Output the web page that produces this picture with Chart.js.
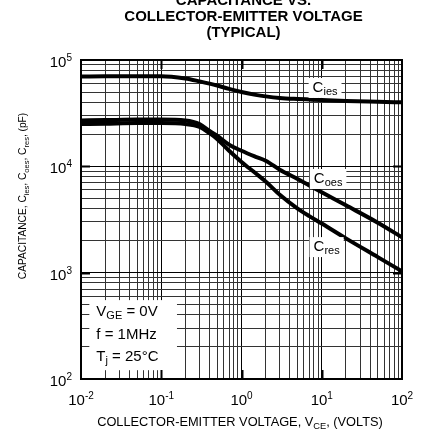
<!DOCTYPE html>
<html><head><meta charset="utf-8">
<script src="https://cdn.jsdelivr.net/npm/chart.js@4/dist/chart.umd.min.js"></script>
<style>html,body{margin:0;padding:0;background:#fff;}canvas{display:block;}</style>
</head><body>
<canvas id="c" width="429" height="434"></canvas>
<script>
// ---------- data ----------
const voltage = [0.01, 0.02, 0.05, 0.1, 0.2, 0.3, 0.4, 0.5, 0.7, 1, 1.5, 2, 3, 5, 7, 10, 20, 50, 100];
const cies = [70000, 70200, 70500, 70500, 67000, 63000, 60000, 57500, 53500, 50000, 47000, 45500, 44000, 43000, 42500, 42000, 41200, 40500, 40000];
const coes = [27000, 27200, 27500, 27500, 27000, 25000, 21500, 19300, 16000, 14000, 12300, 11300, 9300, 7600, 6600, 5700, 4300, 2950, 2150];
const cres = [25000, 25200, 25500, 25500, 25000, 23500, 20500, 18000, 14000, 11000, 8600, 7200, 5400, 4000, 3400, 2900, 2100, 1400, 1030];
const xTickExponents = [-2, -1, 0, 1, 2];
const yTickExponents = [2, 3, 4, 5];
const titleLines = ['CAPACITANCE VS.', 'COLLECTOR-EMITTER VOLTAGE', '(TYPICAL)'];
const seriesNames = [['C', 'ies'], ['C', 'oes'], ['C', 'res']];
const conditionLines = [
  [['V', ''], ['GE', 'sub'], [' = 0V', '']],
  [['f = 1MHz', '']],
  [['T', ''], ['j', 'sub'], [' = 25°C', '']]
];
const xTitle = [['COLLECTOR-EMITTER VOLTAGE, V', ''], ['CE', 'sub'], [', (VOLTS)', '']];
const yTitle = [['CAPACITANCE, C', ''], ['ies', 'sub'], [', C', ''], ['oes', 'sub'], [', C', ''], ['res', 'sub'], [', (pF)', '']];

// ---------- layout / style (not data) ----------
const FONT = "'Liberation Sans', Arial, Helvetica, sans-serif";
const labelAnchors = [{x: 11, y: 54600}, {x: 12, y: 7600}, {x: 11.5, y: 1740}];
const conditionBox = {x0: 0.0127, x1: 0.157, y0: 121, y1: 552};

function gridValues(lo, hi) {
  const out = [];
  for (let e = lo; e < hi; e++) for (let k = 1; k <= 9; k++) out.push(parseFloat((k * Math.pow(10, e)).toPrecision(10)));
  out.push(Math.pow(10, hi));
  return out;
}
function isPow10(v) { const l = Math.log10(v); return Math.abs(l - Math.round(l)) < 1e-9; }

function runsWidth(ctx, runs, main, sub) {
  let w = 0;
  for (const [t, kind] of runs) {
    ctx.font = (kind ? sub : main) + 'px ' + FONT;
    w += ctx.measureText(t).width;
  }
  return w;
}
function drawRuns(ctx, runs, x, y, main, sub, align, subDy, supDy) {
  const w = runsWidth(ctx, runs, main, sub);
  let cx = align === 'center' ? x - w / 2 : (align === 'right' ? x - w : x);
  ctx.textAlign = 'left';
  ctx.textBaseline = 'alphabetic';
  for (const [t, kind] of runs) {
    ctx.font = (kind ? sub : main) + 'px ' + FONT;
    const dy = kind === 'sub' ? subDy : (kind === 'sup' ? -supDy : 0);
    ctx.fillText(t, cx, y + dy);
    cx += ctx.measureText(t).width;
  }
  return w;
}

const deco = {
  id: 'deco',
  afterDatasetsDraw(chart) {
    const {ctx, chartArea: a, scales: {x, y}} = chart;
    ctx.save();
    ctx.fillStyle = '#000';
    // conditions box
    const bx0 = x.getPixelForValue(conditionBox.x0), bx1 = x.getPixelForValue(conditionBox.x1);
    const by0 = y.getPixelForValue(conditionBox.y1), by1 = y.getPixelForValue(conditionBox.y0);
    ctx.fillStyle = '#fff';
    ctx.fillRect(bx0, by0, bx1 - bx0, by1 - by0);
    ctx.fillStyle = '#000';
    conditionLines.forEach((runs, i) => {
      drawRuns(ctx, runs, bx0 + 7, by0 + 16 + i * 22.5, 15, 11, 'left', 3, 0);
    });
    // series labels
    seriesNames.forEach(([m, s], i) => {
      const px = x.getPixelForValue(labelAnchors[i].x), py = y.getPixelForValue(labelAnchors[i].y);
      const runs = [[m, ''], [s, 'sub']];
      const w = runsWidth(ctx, runs, 15, 11);
      ctx.fillStyle = '#fff';
      ctx.fillRect(px - w / 2 - 4, py - 10, w + 8, 20);
      ctx.fillStyle = '#000';
      drawRuns(ctx, runs, px, py + 4, 15, 11, 'center', 3, 0);
    });
    // frame
    ctx.strokeStyle = '#000';
    ctx.lineWidth = 2;
    ctx.strokeRect(a.left, a.top, a.right - a.left, a.bottom - a.top);
    // major inward ticks
    ctx.lineWidth = 2;
    ctx.beginPath();
    xTickExponents.slice(1, -1).forEach(e => {
      const px = Math.round(x.getPixelForValue(Math.pow(10, e))) + 0.5;
      ctx.moveTo(px, a.bottom); ctx.lineTo(px, a.bottom - 9);
      ctx.moveTo(px, a.top); ctx.lineTo(px, a.top + 9);
    });
    yTickExponents.slice(1, -1).forEach(e => {
      const py = Math.round(y.getPixelForValue(Math.pow(10, e))) + 0.5;
      ctx.moveTo(a.left, py); ctx.lineTo(a.left + 9, py);
      ctx.moveTo(a.right, py); ctx.lineTo(a.right - 9, py);
    });
    ctx.stroke();
    ctx.restore();
  },
  afterDraw(chart) {
    const {ctx, chartArea: a, scales: {x, y}} = chart;
    ctx.save();
    ctx.fillStyle = '#000';
    // x tick labels
    xTickExponents.forEach(e => {
      const px = x.getPixelForValue(Math.pow(10, e));
      drawRuns(ctx, [['10', ''], [String(e), 'sup']], px, a.bottom + 26, 15, 10, 'center', 0, 6);
    });
    // y tick labels
    yTickExponents.forEach(e => {
      const py = y.getPixelForValue(Math.pow(10, e));
      drawRuns(ctx, [['10', ''], [String(e), 'sup']], a.left - 9, py + 7, 15, 10, 'right', 0, 6);
    });
    // title
    ctx.font = 'bold 15px ' + FONT;
    ctx.textAlign = 'center';
    ctx.textBaseline = 'middle';
    const cx = (a.left + a.right) / 2 + 2;
    titleLines.forEach((t, i) => ctx.fillText(t, cx, 1 + i * 16));
    // x title
    drawRuns(ctx, xTitle, 240, 426, 12.8, 9.3, 'center', 3, 0);
    // y title
    ctx.translate(26, 196);
    ctx.rotate(-Math.PI / 2);
    drawRuns(ctx, yTitle, 0, 0, 10.2, 7.5, 'center', 2.5, 0);
    ctx.restore();
  }
};

const gridColor = c => isPow10(c.tick.value) ? '#000' : '#333';

new Chart(document.getElementById('c'), {
  type: 'scatter',
  data: {
    datasets: [
      {label: 'Cies', data: voltage.map((v, i) => ({x: v, y: cies[i]}))},
      {label: 'Coes', data: voltage.map((v, i) => ({x: v, y: coes[i]}))},
      {label: 'Cres', data: voltage.map((v, i) => ({x: v, y: cres[i]}))}
    ].map(d => Object.assign(d, {showLine: true, borderColor: '#000', borderWidth: 4, pointRadius: 0, cubicInterpolationMode: 'monotone', fill: false}))
  },
  options: {
    responsive: false, animation: false, devicePixelRatio: 1,
    layout: {padding: {left: 81, right: 27, top: 60, bottom: 55}},
    plugins: {legend: {display: false}, tooltip: {enabled: false}, title: {display: false}},
    scales: {
      x: {
        type: 'logarithmic', min: 0.01, max: 100,
        afterBuildTicks: s => { s.ticks = gridValues(-2, 2).map(v => ({value: v})); },
        ticks: {display: false, autoSkip: false},
        grid: {drawTicks: false, color: gridColor, lineWidth: 1},
        border: {display: false}
      },
      y: {
        type: 'logarithmic', min: 100, max: 100000,
        afterBuildTicks: s => { s.ticks = gridValues(2, 5).map(v => ({value: v})); },
        ticks: {display: false, autoSkip: false},
        grid: {drawTicks: false, color: gridColor, lineWidth: 1},
        border: {display: false}
      }
    }
  },
  plugins: [deco]
});
</script>
</body></html>
